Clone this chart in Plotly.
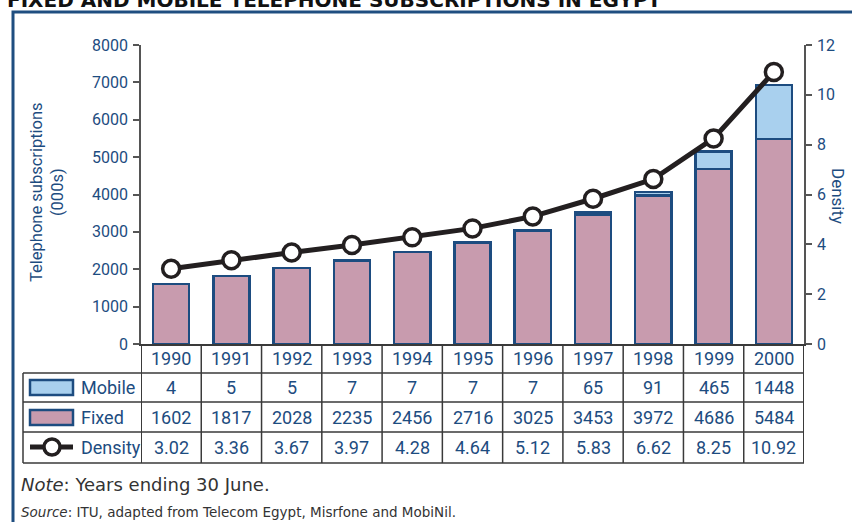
import plotly.graph_objects as go

years = ["1990", "1991", "1992", "1993", "1994", "1995", "1996", "1997", "1998", "1999", "2000"]
mobile = [4, 5, 5, 7, 7, 7, 7, 65, 91, 465, 1448]
fixed = [1602, 1817, 2028, 2235, 2456, 2716, 3025, 3453, 3972, 4686, 5484]
density = [3.02, 3.36, 3.67, 3.97, 4.28, 4.64, 5.12, 5.83, 6.62, 8.25, 10.92]
density_labels = ["3.02", "3.36", "3.67", "3.97", "4.28", "4.64", "5.12", "5.83", "6.62", "8.25", "10.92"]
left_ticks = [0, 1000, 2000, 3000, 4000, 5000, 6000, 7000, 8000]
right_ticks = [0, 2, 4, 6, 8, 10, 12]

W, H = 852, 522
L, R, T, B = 141, 804, 45, 344
NAVY = "#1d4c80"
PINK = "#c89bae"
LBLUE = "#a9d0ee"
GRID = "#3a3a3a"
COND = "Roboto, Liberation Sans, sans-serif"
BODY = "DejaVu Sans, sans-serif"


def px(x):
    return (x - L) / (R - L)


def py(y):
    return (B - y) / (B - T)


fig = go.Figure()
fig.add_trace(go.Bar(x=years, y=fixed, name="Fixed", marker=dict(color=PINK, line=dict(color=NAVY, width=2.5)), width=0.6))
fig.add_trace(go.Bar(x=years, y=mobile, name="Mobile", marker=dict(color=LBLUE, line=dict(color=NAVY, width=2.5)), width=0.6))
fig.add_trace(go.Scatter(x=years, y=density, name="Density", yaxis="y2", mode="lines+markers",
                         line=dict(color="#231f20", width=5),
                         marker=dict(size=17, color="white", line=dict(color="#231f20", width=3.5))))

fig.update_layout(
    width=W, height=H,
    margin=dict(l=L, r=W - R, t=T, b=H - B),
    barmode="stack",
    showlegend=False,
    plot_bgcolor="white", paper_bgcolor="white",
    xaxis=dict(type="category", range=[-0.5, 10.5], showticklabels=False, ticks="",
               showline=True, linecolor=GRID, linewidth=1.5, showgrid=False, zeroline=False),
    yaxis=dict(range=[0, 8000], tickvals=left_ticks, ticks="outside", ticklen=6, tickwidth=1.5,
               tickcolor="#555", showline=True, linecolor="#555", linewidth=1.5, showgrid=False,
               zeroline=False, tickfont=dict(family=COND, size=16, color=NAVY), ticklabelstandoff=2),
    yaxis2=dict(range=[0, 12], tickvals=right_ticks, overlaying="y", side="right", ticks="outside",
                ticklen=6, tickwidth=1.5, tickcolor="#555", showline=True, linecolor="#555",
                linewidth=1.5, showgrid=False, zeroline=False,
                tickfont=dict(family=COND, size=16, color=NAVY), ticklabelstandoff=2),
)

shapes = []
# frame
shapes.append(dict(type="rect", xref="paper", yref="paper", x0=px(13), x1=px(900), y0=py(12), y1=py(600),
                   line=dict(color="#1f4e80", width=3), layer="below"))
# table horizontal lines
for yy in [373, 402, 432, 463]:
    shapes.append(dict(type="line", xref="paper", yref="paper", x0=px(23), x1=px(R), y0=py(yy), y1=py(yy),
                       line=dict(color=GRID, width=1.5)))
# legend column left edge
shapes.append(dict(type="line", xref="paper", yref="paper", x0=px(23), x1=px(23), y0=py(373), y1=py(463),
                   line=dict(color=GRID, width=1.5)))
# column separators
for i in range(len(years) + 1):
    shapes.append(dict(type="line", xref="x", yref="paper", x0=i - 0.5, x1=i - 0.5, y0=py(B), y1=py(463),
                       line=dict(color=GRID, width=1.5 if 0 < i < len(years) else 2)))
# legend swatches
shapes.append(dict(type="rect", xref="paper", yref="paper", x0=px(30), x1=px(73), y0=py(380), y1=py(395),
                   fillcolor=LBLUE, line=dict(color=NAVY, width=2.5)))
shapes.append(dict(type="rect", xref="paper", yref="paper", x0=px(30), x1=px(73), y0=py(410), y1=py(425),
                   fillcolor=PINK, line=dict(color=NAVY, width=2.5)))
shapes.append(dict(type="line", xref="paper", yref="paper", x0=px(30), x1=px(73), y0=py(447), y1=py(447),
                   line=dict(color="#231f20", width=5)))
shapes.append(dict(type="circle", xref="paper", yref="paper", x0=px(44), x1=px(60), y0=py(439), y1=py(455),
                   fillcolor="white", line=dict(color="#231f20", width=3.5)))
fig.update_layout(shapes=shapes)

ann = []
rows = [(358.5, years), (387.5, [str(v) for v in mobile]), (417, [str(v) for v in fixed]), (447.5, density_labels)]
for yc, vals in rows:
    for i, v in enumerate(vals):
        ann.append(dict(x=i, xref="x", y=py(yc), yref="paper", text=v, showarrow=False,
                        xanchor="center", yanchor="middle", font=dict(family=COND, size=18, color=NAVY)))
for yc, lab in [(387.5, "Mobile"), (417, "Fixed"), (447.5, "Density")]:
    ann.append(dict(x=px(79), xref="paper", y=py(yc), yref="paper", text=lab, showarrow=False,
                    xanchor="left", yanchor="middle", font=dict(family=COND, size=18, color=NAVY)))
ann.append(dict(x=px(47), xref="paper", y=py(192), yref="paper", text="Telephone subscriptions<br>(000s)",
                showarrow=False, textangle=-90, xanchor="center", yanchor="middle",
                font=dict(family=COND, size=16.5, color=NAVY)))
ann.append(dict(x=px(838), xref="paper", y=py(196), yref="paper", text="Density",
                showarrow=False, textangle=90, xanchor="center", yanchor="middle",
                font=dict(family=COND, size=17, color=NAVY)))
ann.append(dict(x=px(5), xref="paper", y=py(-0.5), yref="paper",
                text="<b>FIXED AND MOBILE TELEPHONE SUBSCRIPTIONS IN EGYPT</b>",
                showarrow=False, xanchor="left", yanchor="middle",
                font=dict(family="DejaVu Sans, sans-serif", size=20, color="#111")))
ann.append(dict(x=px(19), xref="paper", y=py(484), yref="paper", text="<i>Note</i>: Years ending 30 June.",
                showarrow=False, xanchor="left", yanchor="middle", font=dict(family=BODY, size=18, color="#333")))
ann.append(dict(x=px(19), xref="paper", y=py(512), yref="paper",
                text="<i>Source</i>: ITU, adapted from Telecom Egypt, Misrfone and MobiNil.",
                showarrow=False, xanchor="left", yanchor="middle", font=dict(family=BODY, size=13.5, color="#333")))
fig.update_layout(annotations=ann)

fig.write_html("out.html", config={"displayModeBar": False},
               post_script="document.body.style.margin='0';")
